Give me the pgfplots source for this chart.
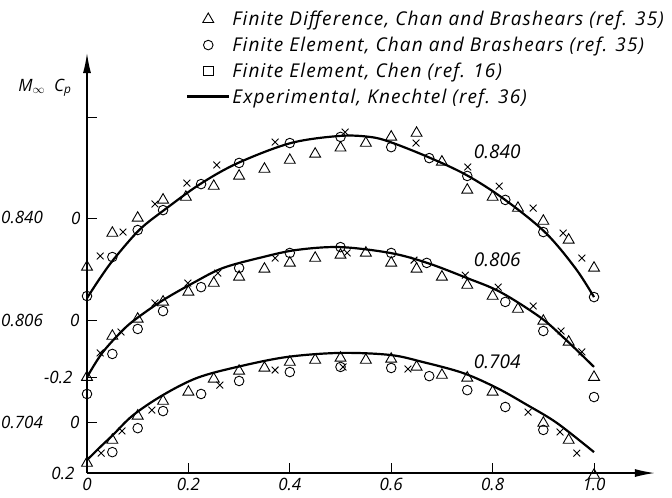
\documentclass[border=0pt]{standalone}
\usepackage{pgfplots}
\pgfplotsset{compat=1.18}
\usetikzlibrary{arrows.meta}
\usepackage{fontspec}
\setmainfont{Open Sans}
\newfontfamily\legfont{Open Sans}[LetterSpace=6]
\newcommand{\lbl}{\fontsize{17}{20}\selectfont\itshape}
\newcommand{\curvelbl}{\fontsize{19}{22}\selectfont\itshape}
\newcommand{\leg}{\legfont\fontsize{19}{22}\selectfont\itshape}
\pgfplotsset{
  c840/.style={y filter/.expression={1.0-y}},
  c806/.style={y filter/.expression={0.6-y}},
  c704/.style={y filter/.expression={0.2-y}},
  exper/.style={black, line width=2.2pt, smooth, tension=0.55, no markers},
  fd/.style={only marks, mark=triangle, mark size=6.3pt, mark options={line width=0.9pt, fill=none}, black},
  fe/.style={only marks, mark=o, mark size=4.8pt, mark options={line width=0.9pt}, black},
  ch/.style={only marks, mark=x, mark size=4.8pt, mark options={line width=0.9pt}, black},
}
\begin{document}
\begin{tikzpicture}
\begin{axis}[
  x=507pt, y=255pt,
  xmin=0, xmax=1.12, ymin=0, ymax=1.647,
  axis lines=left,
  axis line style={line width=1.3pt, -{Latex[length=20pt,width=8pt]}},
  clip=false,
  xtick={0,0.2,0.4,0.6,0.8,1.0},
  xticklabels={0,0.2,0.4,0.6,0.8,1.0},
  ytick={0,0.2,0.376,0.6,1.0,1.396},
  yticklabels={},
  tick align=inside, major tick length=10pt,
  tick style={black, line width=1pt},
  ticklabel style={font=\lbl},
  xticklabel style={yshift=-1.5pt},
  legend style={at={(0.1725,1.107)}, anchor=north west, draw=none, fill=none,
    font=\leg, row sep=5.7pt, inner sep=1pt},
  legend cell align=left,
]
\addlegendimage{legend image code/.code={\draw[line width=0.9pt] plot[mark=triangle, mark size=6.3pt] coordinates {(21pt,0pt)};}}
\addlegendentry{Finite Difference, Chan and Brashears (ref. 35)}
\addlegendimage{legend image code/.code={\draw[line width=0.9pt] plot[mark=o, mark size=4.8pt] coordinates {(21pt,0pt)};}}
\addlegendentry{Finite Element, Chan and Brashears (ref. 35)}
\addlegendimage{legend image code/.code={\draw[line width=0.9pt] plot[mark=square, mark size=4.8pt] coordinates {(21pt,0pt)};}}
\addlegendentry{Finite Element, Chen (ref. 16)}
\addlegendimage{legend image code/.code={\draw[line width=2.2pt] (0pt,0pt) -- (42pt,0pt);}}
\addlegendentry{Experimental, Knechtel (ref. 36)}

% ---- M = 0.840 ----
\addplot[exper, c840, forget plot] coordinates {(0,0.314)(0.026,0.235)(0.053,0.161)(0.103,0.047)(0.152,-0.031)(0.223,-0.133)(0.298,-0.216)(0.402,-0.294)(0.499,-0.322)(0.558,-0.318)(0.598,-0.298)(0.673,-0.239)(0.748,-0.169)(0.822,-0.075)(0.903,0.055)(0.963,0.196)(1.0,0.310)};
\addplot[fe, c840, forget plot] coordinates {(0,0.306)(0.05,0.153)(0.10,0.047)(0.15,-0.031)(0.225,-0.133)(0.30,-0.216)(0.40,-0.294)(0.50,-0.318)(0.60,-0.278)(0.675,-0.235)(0.75,-0.165)(0.825,-0.071)(0.90,0.055)(1.0,0.310)};
\addplot[fd, c840, forget plot] coordinates {(0,0.192)(0.05,0.059)(0.10,0.0)(0.15,-0.071)(0.195,-0.082)(0.25,-0.125)(0.30,-0.165)(0.35,-0.192)(0.40,-0.227)(0.45,-0.251)(0.50,-0.275)(0.55,-0.294)(0.60,-0.318)(0.65,-0.333)(0.70,-0.220)(0.75,-0.110)(0.80,-0.082)(0.85,-0.039)(0.90,0.012)(0.95,0.086)(1.0,0.196)};
\addplot[ch, c840, forget plot] coordinates {(0.026,0.149)(0.071,0.055)(0.134,-0.055)(0.197,-0.137)(0.256,-0.208)(0.371,-0.298)(0.509,-0.337)(0.649,-0.294)(0.751,-0.200)(0.813,-0.125)(0.880,-0.039)(0.939,0.059)(0.976,0.157)};

% ---- M = 0.806 ----
\addplot[exper, c806, forget plot] coordinates {(0,0.224)(0.03,0.129)(0.071,0.039)(0.099,-0.008)(0.15,-0.078)(0.209,-0.145)(0.268,-0.204)(0.347,-0.247)(0.414,-0.275)(0.499,-0.286)(0.598,-0.263)(0.671,-0.224)(0.749,-0.165)(0.815,-0.110)(0.893,-0.012)(0.939,0.067)(1.0,0.184)};
\addplot[fe, c806, forget plot] coordinates {(0,0.290)(0.05,0.133)(0.10,0.035)(0.15,-0.035)(0.225,-0.129)(0.30,-0.204)(0.40,-0.263)(0.50,-0.286)(0.60,-0.263)(0.67,-0.224)(0.825,-0.071)(0.90,0.043)(1.0,0.302)};
\addplot[fd, c806, forget plot] coordinates {(0,0.224)(0.05,0.063)(0.10,-0.004)(0.15,-0.071)(0.20,-0.110)(0.25,-0.145)(0.30,-0.169)(0.35,-0.200)(0.40,-0.224)(0.45,-0.243)(0.50,-0.255)(0.55,-0.263)(0.60,-0.224)(0.65,-0.200)(0.70,-0.169)(0.75,-0.137)(0.80,-0.094)(0.85,-0.043)(0.90,0.004)(0.95,0.086)(1.0,0.224)};
\addplot[ch, c806, forget plot] coordinates {(0.026,0.129)(0.067,0.047)(0.134,-0.067)(0.199,-0.145)(0.258,-0.184)(0.371,-0.243)(0.513,-0.263)(0.645,-0.235)(0.746,-0.176)(0.811,-0.129)(0.880,-0.055)(0.935,0.043)(0.976,0.125)};

% ---- M = 0.704 ----
\addplot[exper, c704, forget plot] coordinates {(0,0.149)(0.026,0.098)(0.051,0.051)(0.091,-0.027)(0.150,-0.106)(0.217,-0.173)(0.296,-0.216)(0.394,-0.255)(0.499,-0.271)(0.598,-0.263)(0.663,-0.235)(0.742,-0.192)(0.809,-0.133)(0.868,-0.067)(0.927,0.004)(1.0,0.118)};
\addplot[fe, c704, forget plot] coordinates {(0.05,0.118)(0.10,0.024)(0.15,-0.043)(0.225,-0.110)(0.30,-0.161)(0.40,-0.196)(0.50,-0.216)(0.60,-0.212)(0.675,-0.180)(0.75,-0.125)(0.825,-0.059)(0.90,0.031)};
\addplot[fd, c704, forget plot] coordinates {(0,0.161)(0.05,0.071)(0.10,-0.024)(0.15,-0.082)(0.20,-0.118)(0.25,-0.169)(0.30,-0.200)(0.35,-0.212)(0.40,-0.235)(0.45,-0.243)(0.50,-0.251)(0.55,-0.243)(0.60,-0.247)(0.65,-0.216)(0.70,-0.184)(0.75,-0.173)(0.80,-0.118)(0.90,0.004)(0.95,0.071)(1.0,0.208)};
\addplot[ch, c704, forget plot] coordinates {(0.028,0.122)(0.069,0.035)(0.128,-0.047)(0.262,-0.145)(0.371,-0.204)(0.505,-0.216)(0.633,-0.208)(0.870,-0.039)(0.933,0.039)(0.966,0.122)};

% y tick labels (Cp, one scale per curve)
\node[font=\lbl, anchor=east, xshift=-9pt] at (axis cs:0,0) {0.2};
\node[font=\lbl, anchor=east, xshift=-4pt] at (axis cs:0,0.2) {0};
\node[font=\lbl, anchor=east, xshift=-11pt] at (axis cs:0,0.376) {-0.2};
\node[font=\lbl, anchor=east, xshift=-4pt] at (axis cs:0,0.6) {0};
\node[font=\lbl, anchor=east, xshift=-3pt] at (axis cs:0,1.0) {0};

% labels
\node[font=\curvelbl] at (axis cs:0.809,1.259) {0.840};
\node[font=\curvelbl] at (axis cs:0.809,0.835) {0.806};
\node[font=\curvelbl] at (axis cs:0.809,0.435) {0.704};
\node[font=\lbl] at (axis cs:-0.128,1.004) {0.840};
\node[font=\lbl] at (axis cs:-0.128,0.6) {0.806};
\node[font=\lbl] at (axis cs:-0.128,0.2) {0.704};
\node[font=\lbl] at (axis cs:-0.083,1.51) {M\textsubscript{$\infty$}\ \ C\textsubscript{p}};

\coordinate (bl) at (axis cs:-0.1716,-0.0941);
\coordinate (tr) at (axis cs:1.1538,1.855);
\end{axis}
\pgfresetboundingbox
\path (bl) rectangle (tr);
\end{tikzpicture}
\end{document}
